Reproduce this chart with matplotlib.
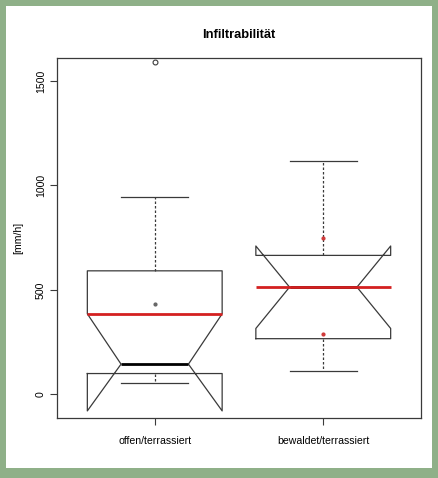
import matplotlib
matplotlib.use("Agg")
import matplotlib.pyplot as plt
from matplotlib.patches import Rectangle

plt.rcParams['font.family'] = ['Liberation Sans', 'DejaVu Sans']

# Kennwerte der beiden Varianten (mm/h)
categories = ["offen/terrassiert", "bewaldet/terrassiert"]
q1 = [99, 266]
median = [144, 513]
q3 = [591, 665]
whisker_lo = [54, 112]
whisker_hi = [945, 1118]
notch_lo = [-80, 315]
notch_hi = [385, 710]
outliers = [[1592], []]
mean_line = [385, 513]
mean_points = [[432], [747, 287]]
point_colors = ["#666666", "#d03a3a"]

stats = []
for i, cat in enumerate(categories):
    stats.append(dict(label=cat, med=median[i], q1=q1[i], q3=q3[i],
                      whislo=whisker_lo[i], whishi=whisker_hi[i],
                      cilo=notch_lo[i], cihi=notch_hi[i], fliers=outliers[i]))

fig = plt.figure(figsize=(4.38, 4.78), dpi=100)
fig.patch.set_facecolor("#8fb088")
# weisses Blatt auf gruenem Rand
fig.add_artist(Rectangle((6 / 438, 10 / 478), 426 / 438, 462 / 478,
                         transform=fig.transFigure, facecolor="white",
                         edgecolor="none", zorder=0))

ax = fig.add_axes([57 / 438, 60 / 478, 364 / 438, 360.5 / 478])
ax.set_facecolor("white")

line_col = "#3a3a3a"
positions = [1, 2]
ax.bxp(stats, positions=positions, widths=0.8, shownotches=True,
       boxprops=dict(color=line_col, linewidth=0.9),
       whiskerprops=dict(color=line_col, linewidth=0.9, linestyle=(0, (2, 1.6))),
       capprops=dict(color=line_col, linewidth=0.9),
       medianprops=dict(color="black", linewidth=2.0),
       flierprops=dict(marker="o", markersize=3.5, markerfacecolor="none",
                       markeredgecolor=line_col, markeredgewidth=0.8))

# Mittelwertlinien und Punkte
for pos, m, pts, c in zip(positions, mean_line, mean_points, point_colors):
    ax.hlines(m, pos - 0.4, pos + 0.4, color="#d42020", linewidth=2.0, zorder=3)
    ax.plot([pos] * len(pts), pts, linestyle="none", marker="o",
            markersize=2, color=c, zorder=3)

ax.set_xlim(0.42, 2.58)
ax.set_ylim(-114, 1613)
ax.set_yticks([0, 500, 1000, 1500])
ax.set_yticklabels(["0", "500", "1000", "1500"], rotation=90, va="center")
ax.set_xticks(positions)
ax.set_xticklabels(categories)
ax.tick_params(axis="both", labelsize=7.6, length=5, width=0.8, color=line_col, pad=3)
ax.tick_params(axis="x", pad=8)
for s in ax.spines.values():
    s.set_linewidth(0.9)
    s.set_color(line_col)

ax.set_ylabel("[mm/h]", fontsize=7.6, labelpad=9)
ax.set_title("Infiltrabilität", fontsize=9.3, fontweight="bold", pad=14)

fig.savefig("out.png", dpi=100, facecolor=fig.get_facecolor())
